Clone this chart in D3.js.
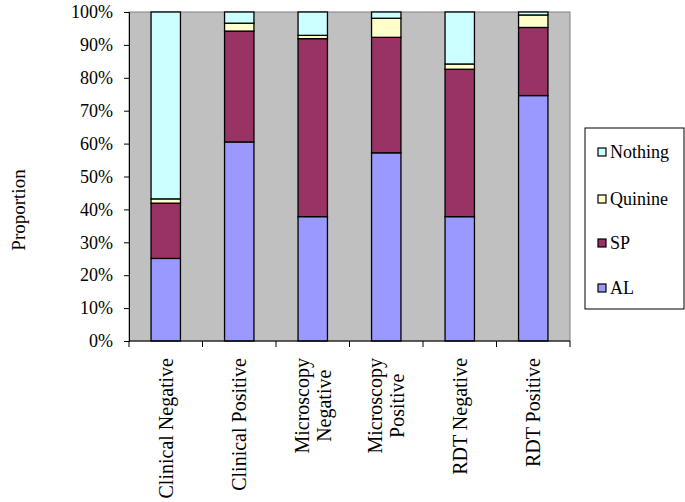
<!DOCTYPE html>
<html><head><meta charset="utf-8">
<script src="https://cdn.jsdelivr.net/npm/d3@7/dist/d3.min.js"></script>
<style>body{margin:0;background:#fff;} svg{display:block;} svg text{font-family:"Liberation Serif","Times New Roman",serif;}</style>
</head><body><svg id="c" width="685" height="502"></svg>
<script>
const categories = ["Clinical Negative","Clinical Positive","Microscopy\nNegative","Microscopy\nPositive","RDT Negative","RDT Positive"];
const AL      = [25.1, 60.5, 37.8, 57.2, 37.8, 74.6];
const SP      = [16.8, 33.7, 54.1, 35.1, 44.8, 20.7];
const Quinine = [1.3, 2.4, 1.0, 5.8, 1.6, 3.8];
const Nothing = [56.8, 3.4, 7.1, 1.9, 15.8, 0.9];
const seriesNames = ["AL","SP","Quinine","Nothing"];
const seriesColors = ["#9999FF","#993366","#FFFFCC","#CCFFFF"];
const yTicks = [0,10,20,30,40,50,60,70,80,90,100];

const seriesVals = {AL, SP, Quinine, Nothing};
const table = categories.map((c,i)=>{const o={cat:c}; seriesNames.forEach(s=>o[s]=seriesVals[s][i]); return o;});
const stack = d3.stack().keys(seriesNames).offset(d3.stackOffsetExpand)(table);

const svg = d3.select("#c");
const L=129, R=570, T=12, B=341;
const x = d3.scaleBand().domain(categories).range([L,R]).paddingInner(0.6).paddingOuter(0.3);
const xTick = d3.scaleBand().domain(categories).range([L,R]);
const y = d3.scaleLinear().domain([0,1]).range([B,T]);
const color = d3.scaleOrdinal().domain(seriesNames).range(seriesColors);

svg.append("rect").attr("x",L).attr("y",T).attr("width",R-L).attr("height",B-T)
  .attr("fill","#C0C0C0").attr("stroke","#808080").attr("stroke-width",1);

stack.forEach(layer=>{
  svg.append("g").selectAll("rect").data(layer).join("rect")
    .attr("x",d=>x(d.data.cat)).attr("width",x.bandwidth())
    .attr("y",d=>y(d[1])).attr("height",d=>y(d[0])-y(d[1]))
    .attr("fill",color(layer.key)).attr("stroke","#000").attr("stroke-width",1.3);
});

// Y axis
const yAxis = d3.axisLeft(y).tickValues(yTicks.map(v=>v/100)).tickFormat(d=>Math.round(d*100)+"%").tickSize(5).tickPadding(11);
const gy = svg.append("g").attr("transform",`translate(${L},0)`).call(yAxis);
gy.attr("font-family",null);
gy.select(".domain").attr("stroke","#000");
gy.selectAll(".tick line").attr("stroke","#000");
gy.selectAll("text").attr("font-size","18px").attr("fill","#000");

// X axis
const gx = svg.append("g").attr("transform",`translate(0,${B})`);
gx.append("line").attr("x1",L).attr("x2",R).attr("stroke","#000");
const tickXs = categories.map(c=>xTick(c)).concat([R]);
gx.selectAll("line.t").data(tickXs).join("line").attr("class","t")
  .attr("x1",d=>d).attr("x2",d=>d).attr("y1",0).attr("y2",6).attr("stroke","#000");

// category labels (rotated)
categories.forEach(c=>{
  const lines = c.split("\n");
  const cx = xTick(c)+xTick.bandwidth()/2;
  const g = svg.append("g");
  const texts = lines.map((ln,i)=> g.append("text").text(ln).attr("font-size","20px").attr("fill","#000"));
  const maxLen = d3.max(texts, t=>t.node().getComputedTextLength());
  const lh = 22;
  texts.forEach((t,i)=>{
    const off = (i-(lines.length-1)/2)*lh;
    const px = cx+off, py = 358+maxLen/2;
    t.attr("text-anchor","middle").attr("dominant-baseline","central")
     .attr("transform",`translate(${px},${py}) rotate(-90)`);
  });
});

// Y title
svg.append("text").text("Proportion").attr("font-size","19px").attr("fill","#000")
  .attr("text-anchor","middle").attr("dominant-baseline","central")
  .attr("transform","translate(18,210) rotate(-90)");

// Legend
const lg = svg.append("g");
lg.append("rect").attr("x",585).attr("y",128).attr("width",99).attr("height",181)
  .attr("fill","#fff").attr("stroke","#000").attr("stroke-width",1);
const legOrder = ["Nothing","Quinine","SP","AL"];
const legY = [152,199,243,288];
legOrder.forEach((s,i)=>{
  lg.append("rect").attr("x",598).attr("y",legY[i]-4).attr("width",8).attr("height",8)
    .attr("fill",color(s)).attr("stroke","#000").attr("stroke-width",1.2);
  lg.append("text").text(s).attr("x",610).attr("y",legY[i]).attr("dominant-baseline","central")
    .attr("font-size","18px").attr("fill","#000");
});
</script></body></html>
